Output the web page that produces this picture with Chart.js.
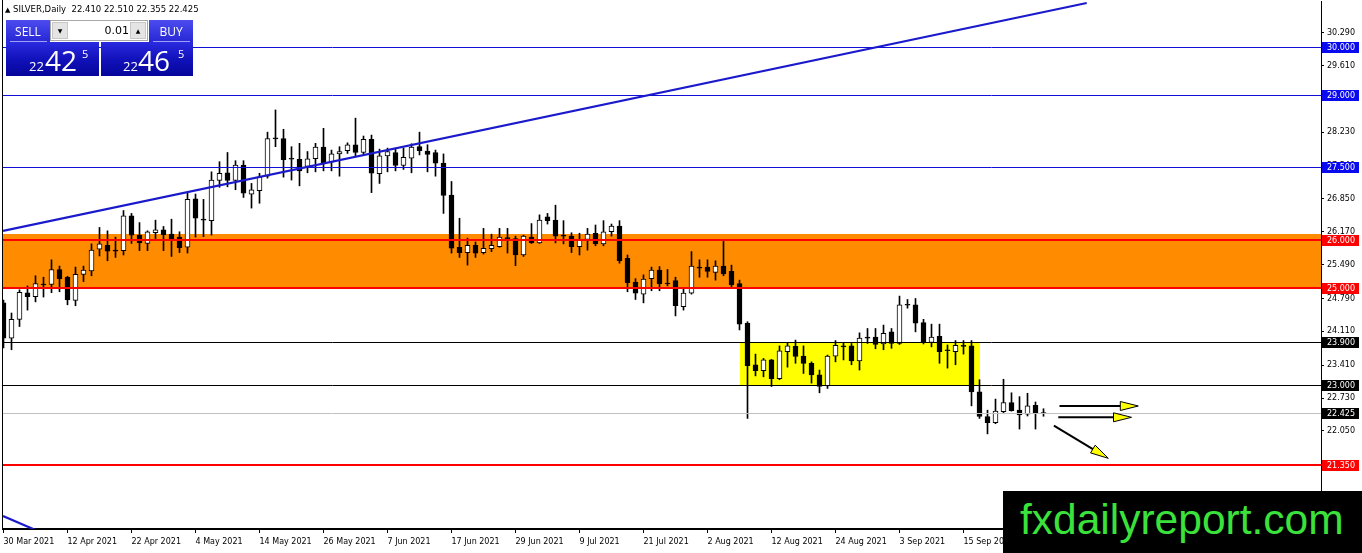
<!DOCTYPE html>
<html><head><meta charset="utf-8">
<script src="https://cdn.jsdelivr.net/npm/chart.js@4.4.1/dist/chart.umd.min.js"></script>
<style>
html,body{margin:0;padding:0;background:#fff;overflow:hidden}
#wrap{position:relative;width:1362px;height:553px;overflow:hidden}
#c{position:absolute;left:0;top:0}
.abs{position:absolute}
#hdr{left:5px;top:4px;font:8.5px 'DejaVu Sans';color:#000;white-space:pre;line-height:11px}
#hdr .tri{font-size:7px}
.btn{position:absolute;top:20px;height:22px;width:44px;background:linear-gradient(#4c4cf0,#2727d4);color:#fff;font:12px 'Open Sans';display:flex;align-items:center;justify-content:center}
.sep{position:absolute;top:41px;height:1px;background:rgba(190,190,255,0.8)}
.box{position:absolute;top:42px;height:34px;background:linear-gradient(#2a2ae0,#1010b8 55%,#06069a)}
.dig{position:absolute;color:#fff;font-family:'Open Sans';white-space:pre}
#lot{left:50px;top:20px;width:98px;height:21px;background:#fff;border:1px solid #a8a8a8;box-sizing:border-box}
.arr{position:absolute;top:1px;width:16px;height:17px;background:#e4e4e4;border:1px solid #c8c8c8;box-sizing:border-box;font:6px 'DejaVu Sans';color:#000;display:flex;align-items:center;justify-content:center}
#lotv{position:absolute;right:18px;top:3px;font:11px 'DejaVu Sans';color:#000}
#wm{left:1003px;top:491px;width:359px;height:62px;background:#000}
#wmt{left:1020px;top:498px;font:42.5px 'Liberation Sans';line-height:43px;color:#3be23b;white-space:pre}
</style></head><body>
<div id="wrap">
<canvas id="c" width="1362" height="553"></canvas>
<div id="hdr" class="abs"><span class="tri">▲</span> SILVER,Daily  22.410 22.510 22.355 22.425</div>
<div class="box" style="left:6px;width:93px"></div>
<div class="box" style="left:101px;width:92px"></div>
<div class="btn" style="left:6px">SELL</div>
<div class="btn" style="left:149px">BUY</div>
<div class="sep" style="left:10px;width:37px"></div>
<div class="sep" style="left:153px;width:37px"></div>
<div id="lot" class="abs"><div class="arr" style="left:1px">▼</div><div id="lotv">0.01</div><div class="arr" style="right:1px">▲</div></div>
<div class="dig" style="left:29px;top:59.5px;font-size:13px;line-height:13px">22</div>
<div class="dig" style="left:45px;top:46px;font-size:28px;line-height:28px">42</div>
<div class="dig" style="left:82px;top:47.5px;font-size:11px;line-height:11px">5</div>
<div class="dig" style="left:123px;top:59.5px;font-size:13px;line-height:13px">22</div>
<div class="dig" style="left:138px;top:46px;font-size:28px;line-height:28px">46</div>
<div class="dig" style="left:178px;top:47.5px;font-size:11px;line-height:11px">5</div>
<div id="wm" class="abs"></div>
<div id="wmt" class="abs">fxdailyreport.com</div>
</div>
<script>
// ---- data (SILVER daily) ----
const opens = [24.70,23.97,24.36,24.91,24.83,25.09,25.08,25.39,25.23,24.75,
25.29,25.36,25.81,25.89,25.78,25.78,26.50,26.10,25.93,26.15,
26.21,26.12,26.06,25.85,26.85,26.42,26.40,27.23,27.39,27.23,
27.55,26.95,27.02,27.32,28.10,28.10,27.68,27.67,27.52,27.68,
27.92,27.61,27.78,27.85,27.97,27.81,28.08,27.37,27.74,27.81,
27.54,27.69,27.93,27.84,27.81,27.59,26.93,25.85,25.74,25.89,
25.74,25.82,25.86,26.04,26.03,25.69,26.06,25.94,26.48,26.41,
26.09,26.08,25.86,26.01,26.14,25.92,26.17,26.29,25.62,25.13,
24.88,25.20,25.38,25.10,25.16,24.62,24.90,25.43,25.44,25.33,
25.46,25.35,25.10,24.28,23.42,23.30,23.52,23.13,23.69,23.80,
23.60,23.45,23.21,22.98,23.60,23.80,23.81,23.50,23.98,23.99,
23.85,24.10,23.86,24.66,24.66,24.29,23.88,24.01,23.72,23.69,
23.81,23.81,22.86,22.35,22.22,22.45,22.64,22.48,22.40,22.58,
22.410];
const highs = [24.76,24.49,24.97,25.05,25.26,25.23,25.59,25.46,25.25,25.44,
25.46,25.92,26.26,26.19,26.06,26.61,26.55,26.36,26.19,26.41,
26.28,26.43,26.17,26.97,26.95,26.84,27.41,27.62,27.81,27.64,
27.64,27.17,27.38,28.23,28.69,28.29,27.93,28.00,27.83,28.00,
28.31,27.86,27.93,28.01,28.52,28.15,28.17,27.88,27.90,27.90,
27.90,27.99,28.23,27.97,27.86,27.78,27.21,26.45,26.04,25.96,
26.24,26.12,26.24,26.24,26.08,26.10,26.34,26.52,26.55,26.72,
26.40,26.15,26.14,26.24,26.31,26.40,26.33,26.40,25.69,25.20,
25.28,25.44,25.45,25.39,25.23,25.00,25.76,25.59,25.59,25.57,
25.97,25.48,25.17,24.31,23.64,23.55,23.53,23.81,23.88,23.93,
23.81,23.48,23.31,23.62,23.92,23.88,23.86,24.08,24.17,24.17,
24.24,24.17,24.84,24.77,24.79,24.36,24.26,24.26,23.83,23.92,
23.92,23.92,23.11,22.48,22.71,23.12,22.84,22.76,22.83,22.65,
22.510];
const lows = [23.77,23.73,24.21,24.55,24.72,24.82,24.91,24.93,24.66,24.64,
25.14,25.26,25.67,25.57,25.64,25.69,25.93,25.78,25.78,26.03,
25.78,25.66,25.74,25.73,26.06,26.07,26.10,27.09,27.10,27.04,
26.88,26.66,26.76,27.28,27.93,27.30,27.24,27.12,27.39,27.41,
27.43,27.43,27.32,27.79,27.74,27.76,26.98,27.17,27.41,27.43,
27.46,27.39,27.76,27.41,27.32,26.55,25.73,25.64,25.48,25.64,
25.71,25.76,25.85,25.73,25.47,25.66,25.93,25.93,26.33,25.94,
25.92,25.74,25.69,25.79,25.88,25.88,26.08,25.52,24.93,24.77,
24.70,24.95,24.95,25.05,24.43,24.55,24.88,25.23,25.23,25.17,
25.26,25.02,24.14,22.31,23.19,23.17,22.97,23.11,23.37,23.45,
23.24,23.04,22.84,22.93,23.48,23.52,23.42,23.31,23.86,23.75,
23.73,23.76,23.84,24.59,24.10,23.85,23.79,23.45,23.35,23.42,
23.64,22.57,22.31,21.99,22.20,22.43,22.46,22.09,22.36,22.09,
22.355];
const closes = [23.97,24.36,24.92,24.83,25.10,25.07,25.39,25.20,24.76,25.29,
25.38,25.79,25.92,25.77,25.77,26.50,26.10,25.94,26.17,26.21,
26.11,26.02,25.84,26.84,26.45,26.41,27.24,27.38,27.23,27.55,
26.97,27.04,27.30,28.10,28.09,27.66,27.67,27.43,27.68,27.92,
27.60,27.78,27.83,27.97,27.81,28.08,27.38,27.74,27.83,27.54,
27.71,27.92,27.85,27.77,27.59,26.92,25.83,25.74,25.89,25.73,
25.83,25.89,26.06,26.03,25.69,26.08,25.94,26.41,26.40,26.08,
26.08,25.86,26.01,26.12,25.92,26.17,26.29,25.57,25.12,24.90,
25.19,25.38,25.09,25.09,24.64,24.90,25.46,25.42,25.35,25.46,
25.30,25.07,24.26,23.40,23.30,23.52,23.13,23.71,23.81,23.59,
23.45,23.21,22.97,23.60,23.82,23.79,23.50,23.97,23.97,23.84,
24.07,23.86,24.66,24.65,24.28,23.88,23.99,23.69,23.71,23.82,
23.80,22.86,22.35,22.22,22.46,22.64,22.47,22.38,22.57,22.42,
22.425];

// x axis tick labels (every 8th bar)
const tickBars = [0,8,16,24,32,40,48,56,64,72,80,88,96,104,112,120];
const tickLabels = ["30 Mar 2021","12 Apr 2021","22 Apr 2021","4 May 2021","14 May 2021","26 May 2021","7 Jun 2021","17 Jun 2021","29 Jun 2021","9 Jul 2021","21 Jul 2021","2 Aug 2021","12 Aug 2021","24 Aug 2021","3 Sep 2021","15 Sep 2021"];
// price axis ticks
const priceTicks = [30.290,29.610,28.910,28.230,27.540,26.850,26.170,25.490,24.790,24.110,23.410,22.730,22.050];

// horizontal levels
const levelPrices = [30.000,29.000,27.500,26.000,25.000,23.900,23.000,22.425,21.350];
const levelLabels = ["30.000","29.000","27.500","26.000","25.000","23.900","23.000","22.425","21.350"];
// zones (bar index range, price range)
const zoneFromBar = [-2,92];
const zoneToBar = [170,122];
const zoneTop = [26.12,23.90];
const zoneBottom = [24.98,23.00];
// trend lines (bar, price) pairs
const trendBars = [[-0.06,135.4],[-0.06,4.31]];
const trendPrices = [[26.187,30.902],[20.292,19.98]];
// arrows
const arrowBars = [[132.0,141.85],[131.85,141.0],[131.3,138.1]];
const arrowPrices = [[22.567,22.567],[22.333,22.333],[22.16,21.485]];

// ---- styles ----
const levelLineColor = ['#1010d8','#1010d8','#1010d8','#ff0000','#ff0000','#000000','#000000','#c0c0c0','#ff0000'];
const levelLineWidth = [1,1,1,2,2,1,1,1,2];
const levelBoxColor = ['#0a0af0','#0a0af0','#0a0af0','#ff0000','#ff0000','#000000','#000000','#000000','#ff0000'];
const zoneColors = ['#ff8c00','#ffff00'];
const trendColor = '#1a1acc';

const bodyData = opens.map((o,i)=>({x:i,y:[o,closes[i]]}));
const wickData = lows.map((l,i)=>({x:i,y:[l,highs[i]]}));
const bodyFill = opens.map((o,i)=> (closes[i]-o > 0.02) ? '#ffffff' : '#000000');

const overlay = {
  id:'overlay',
  beforeDatasetsDraw(chart){
    const {ctx, chartArea:a, scales:{x,y}} = chart;
    ctx.save();
    ctx.beginPath(); ctx.rect(a.left,a.top,a.right-a.left,a.bottom-a.top); ctx.clip();
    for(let i=0;i<zoneTop.length;i++){
      const x1=Math.round(x.getPixelForValue(zoneFromBar[i])), x2=Math.round(x.getPixelForValue(zoneToBar[i]));
      const y1=Math.round(y.getPixelForValue(zoneTop[i])), y2=Math.round(y.getPixelForValue(zoneBottom[i]));
      ctx.fillStyle=zoneColors[i];
      ctx.fillRect(x1,y1,x2-x1,y2-y1);
    }
    ctx.restore();
  },
  afterDatasetsDraw(chart){
    const {ctx, chartArea:a, scales:{x,y}} = chart;
    ctx.save();
    ctx.beginPath(); ctx.rect(a.left,a.top,a.right-a.left,a.bottom-a.top); ctx.clip();
    for(let i=0;i<levelPrices.length;i++){
      const w=levelLineWidth[i];
      let yy=Math.round(y.getPixelForValue(levelPrices[i]));
      if(w%2===1) yy+=0.5;
      ctx.strokeStyle=levelLineColor[i]; ctx.lineWidth=w;
      ctx.beginPath(); ctx.moveTo(a.left,yy); ctx.lineTo(a.right,yy); ctx.stroke();
    }
    ctx.strokeStyle=trendColor; ctx.lineWidth=2.2;
    for(let i=0;i<trendBars.length;i++){
      ctx.beginPath();
      ctx.moveTo(x.getPixelForValue(trendBars[i][0]), y.getPixelForValue(trendPrices[i][0]));
      ctx.lineTo(x.getPixelForValue(trendBars[i][1]), y.getPixelForValue(trendPrices[i][1]));
      ctx.stroke();
    }
    for(let i=0;i<arrowBars.length;i++){
      const x1=x.getPixelForValue(arrowBars[i][0]), y1=y.getPixelForValue(arrowPrices[i][0]);
      const x2=x.getPixelForValue(arrowBars[i][1]), y2=y.getPixelForValue(arrowPrices[i][1]);
      const L=Math.hypot(x2-x1,y2-y1), ux=(x2-x1)/L, uy=(y2-y1)/L;
      const hl=18, hw=4.5;
      const bx=x2-ux*hl, by=y2-uy*hl;
      ctx.strokeStyle='#000'; ctx.lineWidth=2;
      ctx.beginPath(); ctx.moveTo(x1,y1); ctx.lineTo(bx,by); ctx.stroke();
      ctx.beginPath();
      ctx.moveTo(x2,y2);
      ctx.lineTo(bx-uy*hw,by+ux*hw);
      ctx.lineTo(bx+uy*hw,by-ux*hw);
      ctx.closePath();
      ctx.fillStyle='#ffff00'; ctx.fill();
      ctx.lineWidth=1; ctx.strokeStyle='#000'; ctx.stroke();
    }
    ctx.restore();
  },
  afterDraw(chart){
    const {ctx, chartArea:a, scales:{y}} = chart;
    ctx.save();
    ctx.fillStyle='#000'; ctx.fillRect(2,0,1,a.bottom);
    ctx.font="8px 'DejaVu Sans'"; ctx.textBaseline='middle'; ctx.textAlign='left';
    for(let i=0;i<levelPrices.length;i++){
      const yy=Math.round(y.getPixelForValue(levelPrices[i]));
      ctx.fillStyle=levelBoxColor[i];
      ctx.fillRect(a.right+1,yy-5,37,11);
      ctx.fillStyle='#fff';
      ctx.fillText(levelLabels[i],a.right+6,yy+0.5);
    }
    ctx.restore();
  }
};

new Chart(document.getElementById('c'),{
  type:'bar',
  data:{datasets:[
    {data:bodyData, backgroundColor:bodyFill, borderColor:'#000', borderWidth:1, borderSkipped:false,
     grouped:false, barPercentage:1, categoryPercentage:1, maxBarThickness:5, minBarLength:1, order:1},
    {data:wickData, backgroundColor:'#000', borderWidth:0,
     grouped:false, barPercentage:1, categoryPercentage:1, maxBarThickness:1, order:2}
  ]},
  options:{
    responsive:false, animation:false, devicePixelRatio:1, events:[],
    layout:{padding:{left:3,top:1,right:0,bottom:0}},
    plugins:{legend:{display:false}, tooltip:{enabled:false}},
    scales:{
      x:{type:'linear', position:'bottom', min:-0.0625, max:164.6875, offset:false,
        afterBuildTicks:s=>{ s.ticks = tickBars.map(v=>({value:v})); },
        afterFit:s=>{ s.height=24; s.paddingLeft=0; s.paddingRight=0; },
        grid:{offset:false, drawOnChartArea:false, drawTicks:true, tickLength:4, color:'#000', lineWidth:1},
        border:{display:true, color:'#000', width:2},
        ticks:{autoSkip:false, maxRotation:0, minRotation:0, align:'start', padding:4, color:'#000',
          font:{family:'DejaVu Sans', size:8}, callback:(v,i)=>tickLabels[i]}
      },
      y:{type:'linear', position:'right', min:20.023, max:30.943, offset:false,
        afterBuildTicks:s=>{ s.ticks = priceTicks.map(v=>({value:v})); },
        afterFit:s=>{ s.width=41; s.paddingTop=0; s.paddingBottom=0; },
        grid:{drawOnChartArea:false, drawTicks:true, tickLength:3, color:'#000', lineWidth:1},
        border:{display:true, color:'#000', width:1},
        ticks:{autoSkip:false, padding:3, color:'#000', font:{family:'DejaVu Sans', size:8},
          callback:v=>Number(v).toFixed(3)}
      }
    }
  },
  plugins:[overlay]
});
</script>
</body></html>
